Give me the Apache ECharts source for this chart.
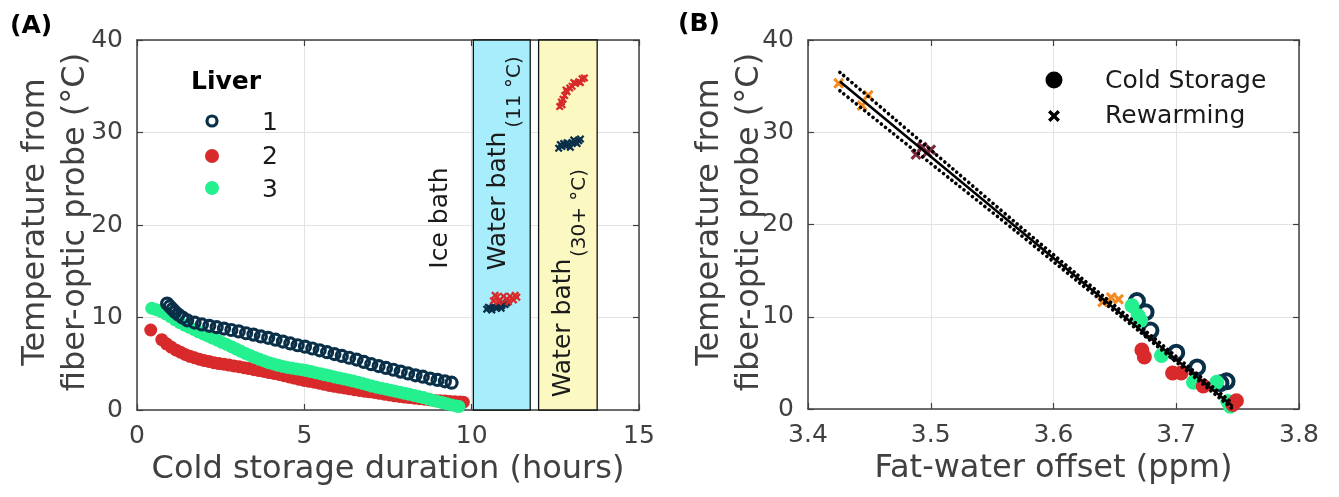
<!DOCTYPE html>
<html>
<head>
<meta charset="utf-8">
<script src="https://cdn.jsdelivr.net/npm/echarts@6/dist/echarts.min.js"></script>
<style>html,body{margin:0;padding:0;background:#fff;}#c{width:1339px;height:497px;}</style>
</head>
<body>
<div id="c"></div>
<script>
// ---------- Panel A data (hours, °C) ----------
const liver1Cold = [[0.90,11.5],[0.98,11.2],[1.06,10.9],[1.14,10.6],[1.24,10.3],[1.36,10.0],[1.50,9.7],[1.72,9.45],[1.94,9.25],[2.16,9.1],[2.38,8.95],[2.60,8.8],[2.82,8.65],[3.04,8.5],[3.26,8.3],[3.48,8.15],[3.70,7.95],[3.92,7.8],[4.14,7.6],[4.36,7.4],[4.58,7.2],[4.80,7.0],[5.02,6.85],[5.24,6.65],[5.46,6.45],[5.68,6.25],[5.90,6.05],[6.12,5.85],[6.34,5.65],[6.56,5.45],[6.78,5.2],[7.00,4.95],[7.22,4.75],[7.44,4.55],[7.66,4.35],[7.88,4.15],[8.10,3.95],[8.32,3.75],[8.54,3.6],[8.76,3.4],[8.98,3.25],[9.20,3.1],[9.40,2.95]];
const liver2Cold = [[0.41,8.65],[0.74,7.6],[0.88,7.15],[1.02,6.8],[1.16,6.5],[1.30,6.25],[1.44,6.0],[1.58,5.8],[1.72,5.65],[1.86,5.5],[2.00,5.35],[2.15,5.25],[2.30,5.12],[2.45,5.02],[2.60,4.95],[2.75,4.86],[2.90,4.77],[3.05,4.68],[3.20,4.58],[3.35,4.48],[3.50,4.36],[3.65,4.26],[3.80,4.17],[3.95,4.05],[4.10,3.95],[4.25,3.85],[4.40,3.7],[4.55,3.57],[4.70,3.45],[4.85,3.32],[5.00,3.2],[5.15,3.1],[5.30,3.0],[5.45,2.9],[5.60,2.78],[5.75,2.66],[5.90,2.56],[6.05,2.47],[6.20,2.38],[6.35,2.29],[6.50,2.2],[6.65,2.11],[6.80,2.03],[6.95,1.96],[7.10,1.89],[7.25,1.8],[7.40,1.71],[7.55,1.62],[7.70,1.53],[7.85,1.46],[8.00,1.4],[8.15,1.34],[8.30,1.28],[8.45,1.22],[8.60,1.16],[8.75,1.1],[8.90,1.04],[9.05,0.99],[9.20,0.96],[9.35,0.93],[9.50,0.9],[9.65,0.87],[9.75,0.85]];
const liver3Cold = [[0.44,11.0],[0.58,10.85],[0.72,10.65],[0.86,10.4],[1.00,10.1],[1.14,9.75],[1.28,9.45],[1.42,9.18],[1.56,8.95],[1.70,8.7],[1.84,8.45],[1.98,8.22],[2.12,8.0],[2.26,7.78],[2.40,7.55],[2.54,7.3],[2.68,7.08],[2.82,6.85],[2.96,6.6],[3.10,6.35],[3.24,6.12],[3.38,5.9],[3.52,5.68],[3.66,5.48],[3.80,5.3],[3.94,5.12],[4.08,4.97],[4.22,4.83],[4.36,4.71],[4.50,4.6],[4.64,4.52],[4.78,4.43],[4.92,4.35],[5.06,4.26],[5.20,4.15],[5.34,4.03],[5.48,3.92],[5.62,3.8],[5.76,3.69],[5.90,3.58],[6.04,3.47],[6.18,3.36],[6.32,3.25],[6.46,3.13],[6.60,3.0],[6.74,2.87],[6.88,2.73],[7.02,2.59],[7.16,2.47],[7.30,2.36],[7.44,2.25],[7.58,2.14],[7.72,2.03],[7.86,1.92],[8.00,1.8],[8.14,1.69],[8.28,1.57],[8.42,1.46],[8.56,1.34],[8.70,1.2],[8.84,1.05],[8.98,0.92],[9.12,0.8],[9.26,0.68],[9.40,0.55],[9.54,0.44],[9.62,0.38]];
const liver1Rewarm = [[10.45,10.9],[10.55,11.0],[10.60,10.8],[10.70,11.1],[10.75,11.0],[10.85,11.2],[10.90,11.3],[11.00,11.4],[10.65,11.2],[10.80,11.3],[10.95,11.5],[11.05,11.6],[10.50,11.1],[10.88,11.0],
                      [12.60,28.3],[12.70,28.5],[12.80,28.6],[12.90,28.7],[13.00,28.9],[13.10,29.0],[13.20,29.1],[13.25,29.3],[12.75,28.8],[12.95,28.4],[13.05,29.2],[12.65,28.7],[12.85,28.9],[13.15,28.8]];
const liver2Rewarm = [[10.65,11.8],[10.75,12.2],[10.85,11.9],[10.95,12.3],[11.05,12.0],[11.15,12.3],[11.25,11.9],[11.35,12.2],[10.80,11.7],[11.10,11.7],[11.30,12.4],[10.70,12.4],
                      [12.63,32.8],[12.68,33.3],[12.73,33.6],[12.78,34.0],[12.85,34.4],[12.93,34.8],[13.00,35.0],[13.10,35.3],[13.20,35.5],[13.30,35.8],[13.37,35.9],[12.70,33.0],[12.82,34.6],[13.05,35.4],[13.25,35.4]];
const bathRanges = [[10.05, 11.75], [12.0, 13.75]];
const xTicksA = {min: 0, max: 15, interval: 5};
const yTicks = {min: 0, max: 40, interval: 10};

// ---------- Panel B data (ppm, °C) ----------
const bLiver1 = [[3.668,11.7],[3.675,10.5],[3.679,8.5],[3.700,6.1],[3.717,4.5],[3.741,3.0],[3.736,2.8]];
const bLiver3 = [[3.664,11.2],[3.669,10.1],[3.671,9.6],[3.688,5.8],[3.714,2.9],[3.733,2.9],[3.744,0.3],[3.742,0.8]];
const bLiver2 = [[3.672,6.4],[3.674,5.65],[3.697,3.9],[3.704,3.9],[3.722,2.5],[3.749,0.9],[3.746,0.5]];
const bRewarmOrange = [[3.425,35.3],[3.449,34.0],[3.444,32.9],[3.640,11.6],[3.653,11.9],[3.647,12.1]];
const bRewarmMaroon = [[3.493,28.4],[3.488,27.6],[3.500,28.1],[3.497,27.8]];
const fitLine = [[3.426,35.5],[3.746,0.3]];
const boundX = [3.426, 3.47, 3.52, 3.57, 3.62, 3.67, 3.746];
const boundUpper = [36.5, 31.5, 25.8, 20.1, 14.5, 9.0, 0.6];
const boundLower = [34.5, 29.8, 24.5, 19.2, 13.8, 8.4, 0.0];
const xTicksB = {min: 3.4, max: 3.8, interval: 0.1};

const NAVY = '#0a3049', RED = '#d82a2a', GREEN = '#25f08f', ORANGE = '#f58a1f', MAROON = '#7d2c40';
const AX = '#404040', GRID = '#e3e3e3', FONT = 'DejaVu Sans';
const CROSS = 'path://M2,0 L5,3 L8,0 L10,2 L7,5 L10,8 L8,10 L5,7 L2,10 L0,8 L3,5 L0,2 Z';
const Y_TITLE = ['Temperature from', 'fiber-optic probe (°C)'];

function mainX(grid, t, name) {
  return {gridIndex: grid, type: 'value', min: t.min, max: t.max, interval: t.interval, position: 'bottom',
    name: name, nameLocation: 'middle', nameGap: 42,
    nameTextStyle: {fontFamily: FONT, fontSize: 32, color: AX},
    axisLine: {show: true, onZero: false, lineStyle: {color: AX, width: 1.5}},
    axisTick: {show: true, inside: true, length: 6, lineStyle: {color: AX, width: 1.2}},
    axisLabel: {fontFamily: FONT, fontSize: 25, color: AX, margin: 14},
    splitLine: {show: true, lineStyle: {color: GRID, width: 1}}};
}
function mirrorX(grid, t) {
  return {gridIndex: grid, type: 'value', min: t.min, max: t.max, interval: t.interval, position: 'top',
    axisLine: {show: true, onZero: false, lineStyle: {color: AX, width: 1.5}},
    axisTick: {show: true, inside: true, length: 6, lineStyle: {color: AX, width: 1.2}},
    axisLabel: {show: false}, splitLine: {show: false}};
}
function mainY(grid) {
  return {gridIndex: grid, type: 'value', min: yTicks.min, max: yTicks.max, interval: yTicks.interval, position: 'left',
    axisLine: {show: true, onZero: false, lineStyle: {color: AX, width: 1.5}},
    axisTick: {show: true, inside: true, length: 6, lineStyle: {color: AX, width: 1.2}},
    axisLabel: {fontFamily: FONT, fontSize: 25, color: AX, margin: 14},
    splitLine: {show: true, lineStyle: {color: GRID, width: 1}}};
}
function mirrorY(grid) {
  return {gridIndex: grid, type: 'value', min: yTicks.min, max: yTicks.max, interval: yTicks.interval, position: 'right',
    axisLine: {show: true, onZero: false, lineStyle: {color: AX, width: 1.5}},
    axisTick: {show: true, inside: true, length: 6, lineStyle: {color: AX, width: 1.2}},
    axisLabel: {show: false}, splitLine: {show: false}};
}

const chart = echarts.init(document.getElementById('c'), null, {renderer: 'canvas'});

function rotText(x, y, text, size, color) {
  return {type: 'text', x: x, y: y, rotation: Math.PI / 2, z: 50,
    style: {text: text, fontFamily: FONT, fontSize: size, fill: color || '#1a1a1a', align: 'center', verticalAlign: 'middle'}};
}
function crossPoly(cx, cy, s) {
  const h = s / 2, w = s * 0.2;
  return {type: 'polygon', z: 50, shape: {points: [
    [cx - h, cy - h + w], [cx - h + w, cy - h], [cx, cy - w], [cx + h - w, cy - h], [cx + h, cy - h + w], [cx + w, cy],
    [cx + h, cy + h - w], [cx + h - w, cy + h], [cx, cy + w], [cx - h + w, cy + h], [cx - h, cy + h - w], [cx - w, cy]]},
    style: {fill: '#000'}};
}
const dotted = {color: '#000', width: 3.6, type: [0.1, 5.2], cap: 'round'};

const option = {
  backgroundColor: '#fff',
  animation: false,
  grid: [
    {left: 137, top: 40, width: 502, height: 370, containLabel: false},
    {left: 808, top: 40, width: 491, height: 369, containLabel: false}
  ],
  xAxis: [mainX(0, xTicksA, 'Cold storage duration (hours)'), mirrorX(0, xTicksA),
          mainX(1, xTicksB, 'Fat-water offset (ppm)'), mirrorX(1, xTicksB)],
  yAxis: [mainY(0), mirrorY(0), mainY(1), mirrorY(1)],
  series: [
    {type: 'scatter', xAxisIndex: 0, yAxisIndex: 0, data: [], z: 1, silent: true,
      markArea: {silent: true, itemStyle: {borderColor: '#111', borderWidth: 1.3},
        data: [
          [{xAxis: bathRanges[0][0], yAxis: yTicks.min, itemStyle: {color: '#a8edfb', borderColor: '#111', borderWidth: 1.3}}, {xAxis: bathRanges[0][1], yAxis: yTicks.max}],
          [{xAxis: bathRanges[1][0], yAxis: yTicks.min, itemStyle: {color: '#fbf8c2', borderColor: '#111', borderWidth: 1.3}}, {xAxis: bathRanges[1][1], yAxis: yTicks.max}]
        ]}},
    {name: '2', type: 'scatter', xAxisIndex: 0, yAxisIndex: 0, data: liver2Cold, symbol: 'circle', symbolSize: 13, z: 3,
      itemStyle: {color: RED, opacity: 1}},
    {name: '3', type: 'scatter', xAxisIndex: 0, yAxisIndex: 0, data: liver3Cold, symbol: 'circle', symbolSize: 13, z: 4,
      itemStyle: {color: GREEN, opacity: 1}},
    {name: '1', type: 'scatter', xAxisIndex: 0, yAxisIndex: 0, data: liver1Cold, symbol: 'circle', symbolSize: 11, z: 5,
      itemStyle: {color: 'rgba(255,255,255,0)', borderColor: NAVY, borderWidth: 3.2, opacity: 1}},
    {type: 'scatter', xAxisIndex: 0, yAxisIndex: 0, data: liver1Rewarm, symbol: CROSS, symbolSize: 8, z: 6,
      itemStyle: {color: NAVY, opacity: 1}},
    {type: 'scatter', xAxisIndex: 0, yAxisIndex: 0, data: liver2Rewarm, symbol: CROSS, symbolSize: 8, z: 6,
      itemStyle: {color: RED, opacity: 1}},

    // Panel B
    {type: 'scatter', xAxisIndex: 2, yAxisIndex: 2, data: bLiver1, symbol: 'circle', symbolSize: 14, z: 3,
      itemStyle: {color: 'rgba(255,255,255,0)', borderColor: NAVY, borderWidth: 4, opacity: 1}},
    {type: 'scatter', xAxisIndex: 2, yAxisIndex: 2, data: bLiver3, symbol: 'circle', symbolSize: 15, z: 4,
      itemStyle: {color: GREEN, opacity: 1}},
    {type: 'scatter', xAxisIndex: 2, yAxisIndex: 2, data: bLiver2, symbol: 'circle', symbolSize: 15, z: 4,
      itemStyle: {color: RED, opacity: 1}},
    {type: 'scatter', xAxisIndex: 2, yAxisIndex: 2, data: bRewarmOrange, symbol: CROSS, symbolSize: 11, z: 5,
      itemStyle: {color: ORANGE, opacity: 1}},
    {type: 'scatter', xAxisIndex: 2, yAxisIndex: 2, data: bRewarmMaroon, symbol: CROSS, symbolSize: 11, z: 5,
      itemStyle: {color: MAROON, opacity: 1}},
    {type: 'line', xAxisIndex: 2, yAxisIndex: 2, data: fitLine, showSymbol: false, z: 7,
      lineStyle: {color: '#000', width: 2.5}},
    {type: 'line', xAxisIndex: 2, yAxisIndex: 2, data: boundX.map((x, i) => [x, boundUpper[i]]), showSymbol: false, smooth: 0.3, z: 7,
      lineStyle: dotted},
    {type: 'line', xAxisIndex: 2, yAxisIndex: 2, data: boundX.map((x, i) => [x, boundLower[i]]), showSymbol: false, smooth: 0.3, z: 7,
      lineStyle: dotted}
  ],
  graphic: [
    {type: 'text', x: 10, y: 14, z: 50, style: {text: '(A)', fontFamily: FONT, fontWeight: 'bold', fontSize: 25, fill: '#000'}},
    {type: 'text', x: 678, y: 12, z: 50, style: {text: '(B)', fontFamily: FONT, fontWeight: 'bold', fontSize: 25, fill: '#000'}},
    // y-axis titles
    {type: 'text', x: 36, y: 222, rotation: Math.PI / 2, z: 50, style: {text: Y_TITLE[0], fontFamily: FONT, fontSize: 32, fill: AX, align: 'center', verticalAlign: 'middle'}},
    {type: 'text', x: 76, y: 222, rotation: Math.PI / 2, z: 50, style: {text: Y_TITLE[1], fontFamily: FONT, fontSize: 32, fill: AX, align: 'center', verticalAlign: 'middle'}},
    {type: 'text', x: 710, y: 222, rotation: Math.PI / 2, z: 50, style: {text: Y_TITLE[0], fontFamily: FONT, fontSize: 32, fill: AX, align: 'center', verticalAlign: 'middle'}},
    {type: 'text', x: 750, y: 222, rotation: Math.PI / 2, z: 50, style: {text: Y_TITLE[1], fontFamily: FONT, fontSize: 32, fill: AX, align: 'center', verticalAlign: 'middle'}},
    // bath annotations
    rotText(440, 218, 'Ice bath', 25),
    rotText(498, 201, 'Water bath', 25),
    rotText(515, 92, '(11 °C)', 20),
    rotText(563, 328, 'Water bath', 25),
    rotText(580, 213, '(30+ °C)', 20),
    // Legend A
    {type: 'text', x: 226, y: 82, z: 50, style: {text: 'Liver', fontFamily: FONT, fontWeight: 'bold', fontSize: 25, fill: '#000', align: 'center', verticalAlign: 'middle'}},
    {type: 'circle', z: 50, shape: {cx: 212, cy: 121, r: 5}, style: {fill: '#fff', stroke: NAVY, lineWidth: 3.2}},
    {type: 'circle', z: 50, shape: {cx: 212, cy: 156, r: 7}, style: {fill: RED}},
    {type: 'circle', z: 50, shape: {cx: 212, cy: 188, r: 7}, style: {fill: GREEN}},
    {type: 'text', x: 270, y: 123, z: 50, style: {text: '1', fontFamily: FONT, fontSize: 25, fill: '#1a1a1a', align: 'center', verticalAlign: 'middle'}},
    {type: 'text', x: 270, y: 157, z: 50, style: {text: '2', fontFamily: FONT, fontSize: 25, fill: '#1a1a1a', align: 'center', verticalAlign: 'middle'}},
    {type: 'text', x: 270, y: 190, z: 50, style: {text: '3', fontFamily: FONT, fontSize: 25, fill: '#1a1a1a', align: 'center', verticalAlign: 'middle'}},
    // Legend B
    {type: 'circle', z: 50, shape: {cx: 1054, cy: 80, r: 8.5}, style: {fill: '#000'}},
    crossPoly(1054, 116, 12),
    {type: 'text', x: 1105, y: 81, z: 50, style: {text: 'Cold Storage', fontFamily: FONT, fontSize: 25, fill: '#1a1a1a', align: 'left', verticalAlign: 'middle'}},
    {type: 'text', x: 1105, y: 116, z: 50, style: {text: 'Rewarming', fontFamily: FONT, fontSize: 25, fill: '#1a1a1a', align: 'left', verticalAlign: 'middle'}}
  ]
};
chart.setOption(option);
</script>
</body>
</html>
